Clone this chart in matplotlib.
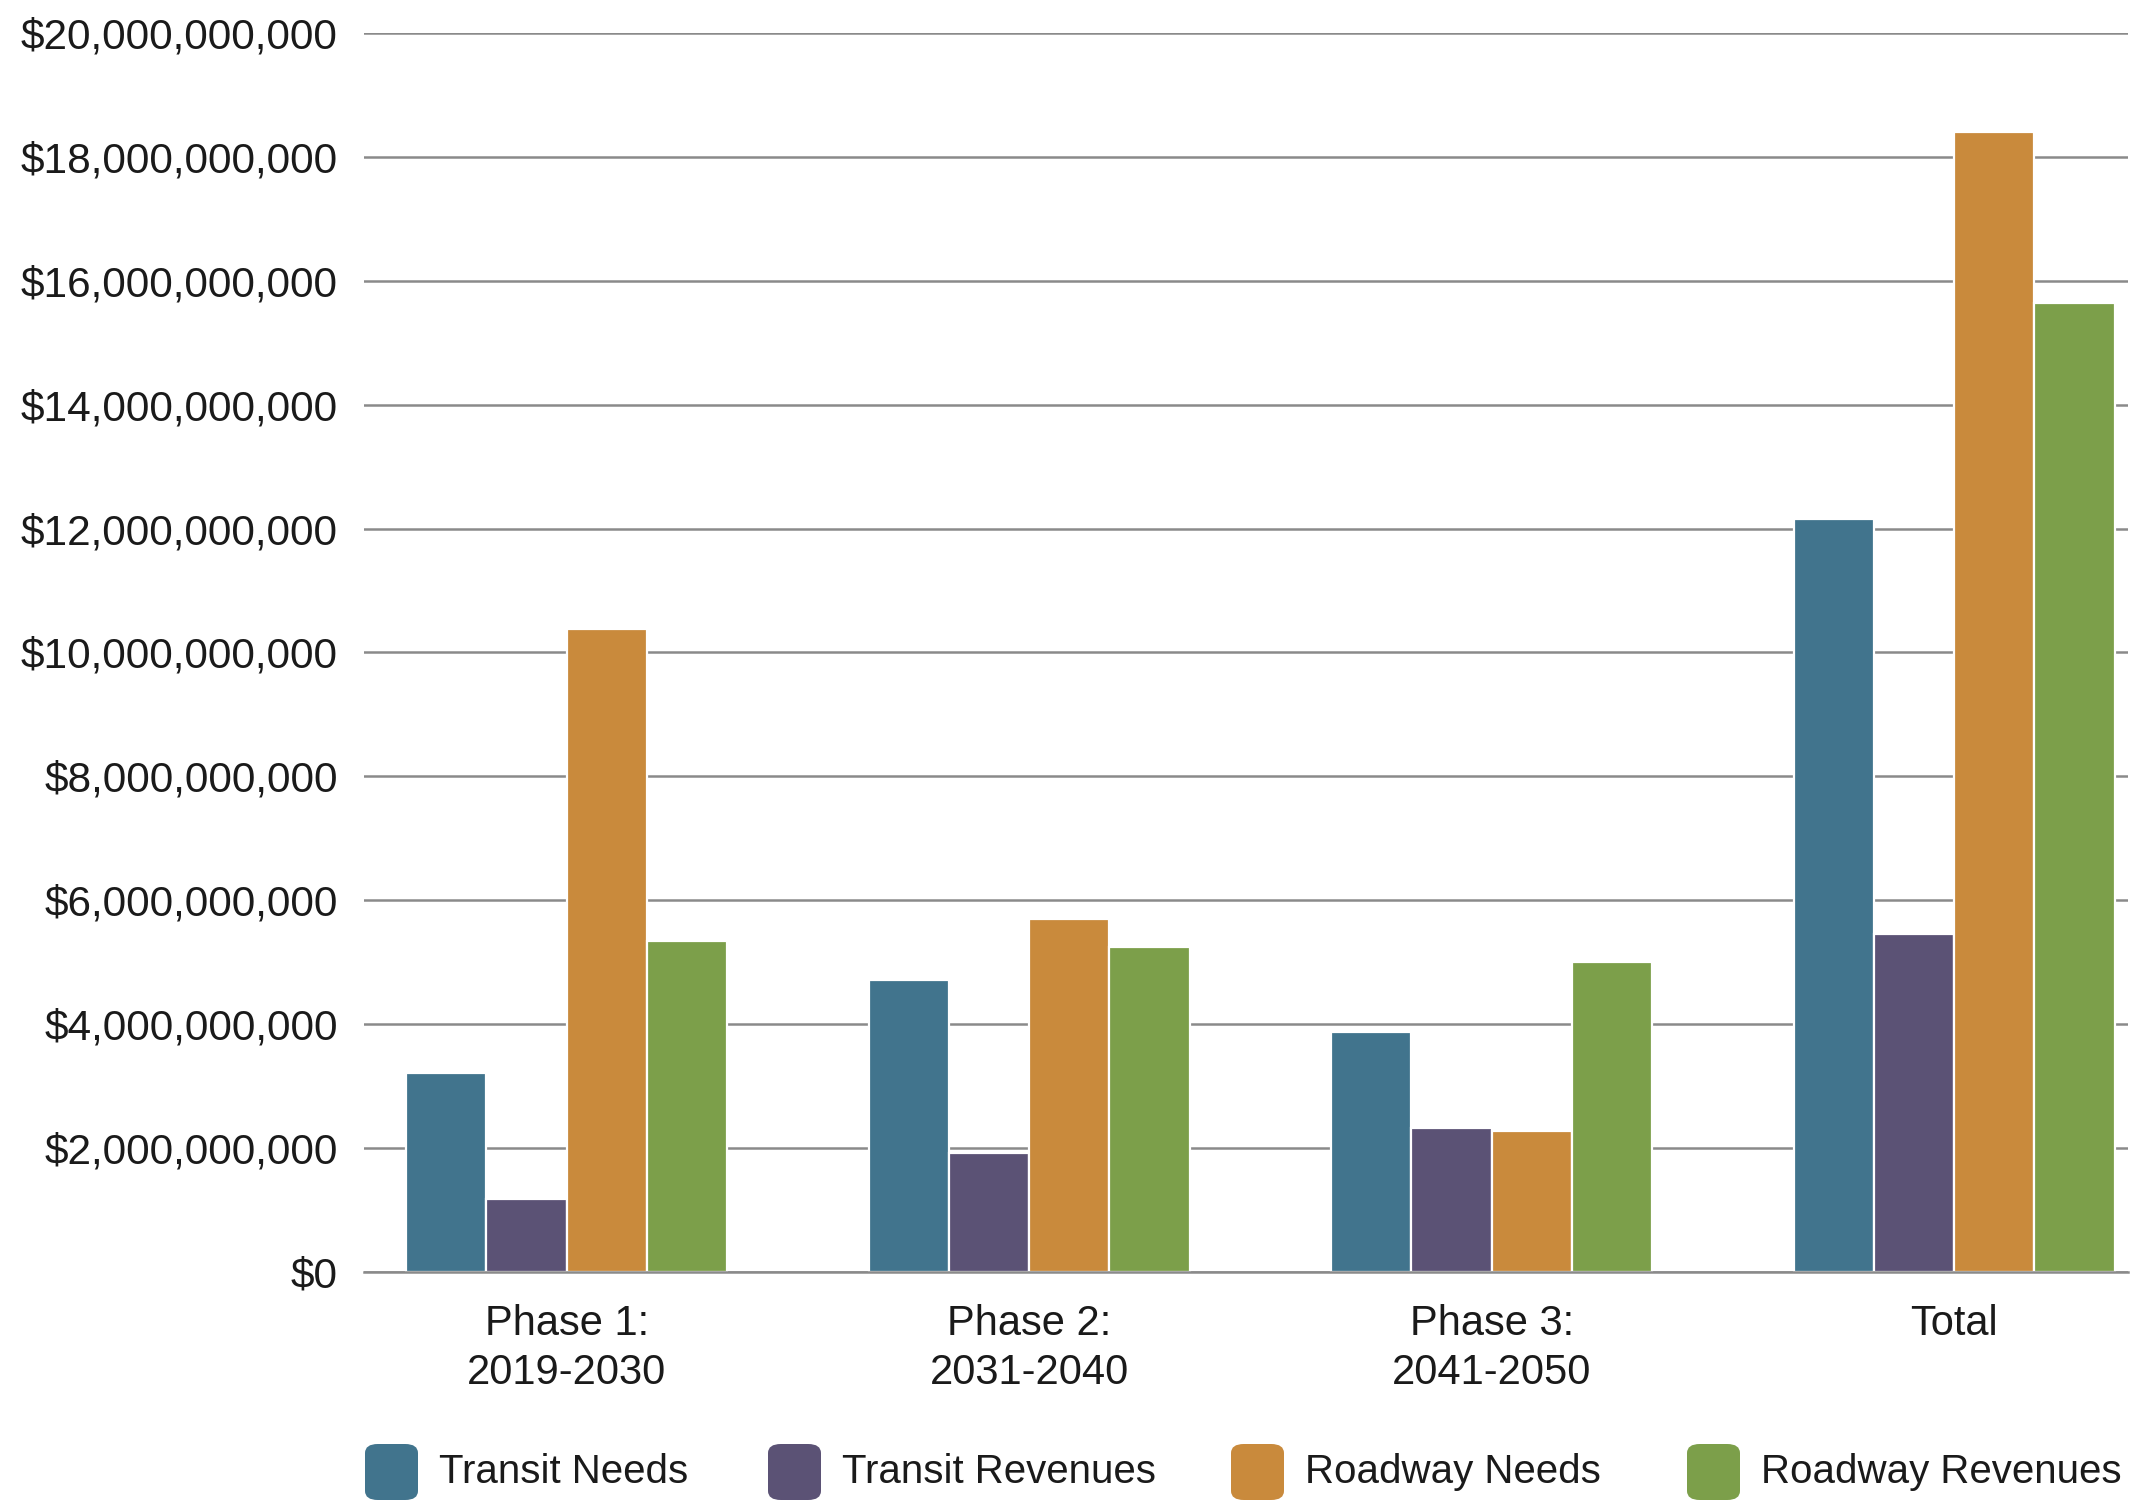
import numpy as np
import matplotlib.pyplot as plt
from matplotlib.patches import FancyBboxPatch
from matplotlib.ticker import FuncFormatter

plt.rcParams['font.family'] = ['Liberation Sans', 'DejaVu Sans']

categories = ["Phase 1:\n2019-2030", "Phase 2:\n2031-2040", "Phase 3:\n2041-2050", "Total"]
series = ["Transit Needs", "Transit Revenues", "Roadway Needs", "Roadway Revenues"]
colors = ["#41748d", "#5b5275", "#c98a3c", "#7c9f4a"]

# values in dollars
transit_needs = [3.21e9, 4.72e9, 3.88e9, 12.15e9]
transit_revenues = [1.17e9, 1.92e9, 2.32e9, 5.45e9]
roadway_needs = [10.38e9, 5.70e9, 2.27e9, 18.40e9]
roadway_revenues = [5.34e9, 5.24e9, 5.00e9, 15.64e9]
values = [transit_needs, transit_revenues, roadway_needs, roadway_revenues]

fig = plt.figure(figsize=(21.38, 15.01), dpi=100)
ax = fig.add_axes([0.1703, 0.1526, 0.825, 0.8254])

x = np.arange(len(categories))
w = 0.1735
for i, (vals, c) in enumerate(zip(values, colors)):
    ax.bar(x + (i - 1.5) * w, vals, w, color=c, edgecolor='white', linewidth=1.6, zorder=2)

ax.set_ylim(0, 20e9)
ax.set_xlim(-0.438, 3.376)
ax.set_yticks(np.arange(0, 20e9 + 1, 2e9))
ax.yaxis.set_major_formatter(FuncFormatter(lambda v, p: "${:,.0f}".format(v)))
ax.set_xticks(x)
ax.set_xticklabels(categories)
ax.grid(axis='y', color='#8a8a8a', linewidth=1.8, zorder=1)
ax.set_axisbelow(True)
for s in ['top', 'right', 'left']:
    ax.spines[s].set_visible(False)
ax.spines['bottom'].set_color('#8a8a8a')
ax.spines['bottom'].set_linewidth(1.8)
ax.spines['bottom'].set_zorder(3)
ax.tick_params(axis='both', length=0, colors='#1a1a1a')
ax.tick_params(axis='y', pad=19, labelsize=30.5)
ax.tick_params(axis='x', pad=23, labelsize=30)
for t in ax.get_xticklabels():
    t.set_linespacing(1.3)

# legend with rounded swatches
leg_x = [365, 768, 1231, 1687]
for lx, name, c in zip(leg_x, series, colors):
    box = FancyBboxPatch((lx / 2138, (1501 - 1500) / 1501), 53 / 2138, 56 / 1501,
                         boxstyle="round,pad=0,rounding_size=0.006",
                         transform=fig.transFigure, facecolor=c, edgecolor='none')
    fig.add_artist(box)
    fig.text((lx + 74) / 2138, (1501 - 1472) / 1501, name, fontsize=29,
             va='center', ha='left', color='#1a1a1a')

fig.savefig("out.png", dpi=100)
